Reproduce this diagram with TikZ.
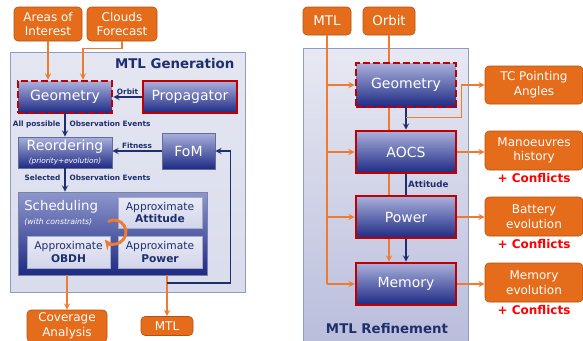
\documentclass[tikz,border=0pt]{standalone}
\usepackage{fontspec}
\setmainfont{DejaVu Sans}
\usetikzlibrary{calc}

\definecolor{orfill}{HTML}{E46C1A}
\definecolor{ordraw}{HTML}{B4520F}
\definecolor{oline}{HTML}{EE7B30}
\definecolor{bltop}{HTML}{AAB0DC}
\definecolor{blbot}{HTML}{1E2A84}
\definecolor{schtop}{HTML}{8E97CC}
\definecolor{redb}{HTML}{C00000}
\definecolor{navy}{HTML}{1F2F6E}
\definecolor{panel}{HTML}{D9DCEC}
\definecolor{panelb}{HTML}{8C9CC4}
\definecolor{apx}{HTML}{D3D6EB}
\definecolor{rptop}{HTML}{E8E9F3}
\definecolor{rpbot}{HTML}{B9BDDB}

\tikzset{
  orbox/.style={draw=ordraw, fill=orfill, rounded corners=3pt, text=white, align=center, inner sep=0pt, font=\fontsize{9}{11}\selectfont},
  blbox/.style={draw=navy!70, top color=bltop, bottom color=blbot, text=white, align=center, inner sep=0pt, font=\fontsize{10.5}{12}\selectfont},
  redbox/.style={blbox, draw=redb, line width=1.9pt},
  dashbox/.style={redbox, dash pattern=on 5pt off 2.5pt},
  apxbox/.style={draw=navy!40, top color=apx!50!white, bottom color=apx, text=navy, align=center, inner sep=0pt, font=\fontsize{8}{9.5}\selectfont},
  lbl/.style={text=navy, font=\bfseries\fontsize{5.5}{6.5}\selectfont, inner sep=1pt},
  oarr/.style={draw=oline, line width=1.1pt, ->},
  oln/.style={draw=oline, line width=1.1pt},
  barr/.style={draw=navy, line width=1.1pt, ->},
  bln/.style={draw=navy, line width=1.1pt},
  conf/.style={text=red, font=\bfseries\fontsize{9}{11}\selectfont},
  ttl/.style={text=navy, font=\bfseries\fontsize{10}{12}\selectfont},
}

\begin{document}
\begin{tikzpicture}[x=0.75pt,y=-0.75pt,>=stealth]
    \useasboundingbox (0,0) rectangle (583,340);
    % MTL generation
    \draw[draw=panelb, top color=panel!70!white, bottom color=panel] (10,52) rectangle (245,292);
    \node[ttl, anchor=east] (gentitle) at (239,64) {MTL Generation};
    \node[orbox, minimum width=51pt, minimum height=25.5pt] (aoi) at (48,24) {Areas of\\Interest};
    \node[orbox, minimum width=52.5pt, minimum height=25.5pt] (clouds) at (122,24) {Clouds\\Forecast};
    \node[dashbox, minimum width=70.5pt, minimum height=24pt] (geo) at (65,97) {Geometry};
    \node[redbox, minimum width=70.5pt, minimum height=24pt] (prop) at (190,97) {Propagator};
    \node[blbox, minimum width=70.5pt, minimum height=23.25pt] (reord) at (65,152.5) {Reordering\\[-2pt]{\itshape\fontsize{5.5}{6.5}\selectfont (priority+evolution)}};
    \node[blbox, minimum width=39.75pt, minimum height=27pt] (fom) at (188.5,151) {FoM};
    \node[draw=navy!60, top color=schtop, bottom color=blbot, minimum width=141.75pt, minimum height=62.25pt, inner sep=0pt] (sched) at (112.5,233.5) {};
    \node[anchor=north west, text=white, font=\fontsize{10}{11.5}\selectfont, inner sep=0pt, align=left] (schtxt) at (24,200) {Scheduling\\[-1pt]{\itshape\fontsize{5.8}{7}\selectfont (with constraints)}};
    \node[apxbox, minimum width=63pt, minimum height=23.25pt] (att) at (160,212.5) {Approximate\\\textbf{Attitude}};
    \node[apxbox, minimum width=62.25pt, minimum height=24pt] (obdh) at (68.5,252) {Approximate\\\textbf{OBDH}};
    \node[apxbox, minimum width=63pt, minimum height=24pt] (pow) at (160,252) {Approximate\\\textbf{Power}};
    \draw[oline, line width=2.2pt, ->] (114,232) ++(240:12) arc (240:500:12);
    \node[orbox, minimum width=60pt, minimum height=24pt] (cov) at (67,326) {Coverage\\Analysis};
    \node[orbox, minimum width=39pt, minimum height=14.25pt] (mtlout) at (167,326) {MTL};

    \draw[oarr] (aoi.south) -- (aoi.south |- geo.north);
    \coordinate (cbend) at ($(geo.north)+(18,0)$);
    \draw[oarr] (clouds.south) -- ++(0,7) -| (cbend);
    \draw[barr] (prop.west) -- (geo.east) node[lbl, midway, above] {Orbit};
    \draw[barr] (geo.south) -- (reord.north);
    \node[lbl, anchor=east] (allp) at (62,124) {All possible};
    \node[lbl, anchor=west] (obs1) at (68,124) {Observation Events};
    \draw[barr] (fom.west) -- (fom.west -| reord.east) node[lbl, midway, above] {Fitness};
    \draw[barr] (reord.south) -- (reord.south |- sched.north);
    \node[lbl, anchor=east] (selp) at (62,178) {Selected};
    \node[lbl, anchor=west] (obs2) at (68,178) {Observation Events};
    \draw[oarr] (sched.south -| cov.north) -- (cov.north);
    \draw[oarr] (sched.south -| mtlout.north) -- (mtlout.north);
    \coordinate (ret) at (167,283);
    \draw[barr] (ret) -| ($(fom.east)+(15,0)$) -- (fom.east);

    % MTL refinement
    \draw[draw=panelb, top color=rptop, bottom color=rpbot] (303,48) rectangle (468,345);
    \node[orbox, minimum width=36pt, minimum height=21pt, font=\fontsize{10}{12}\selectfont] (mtlR) at (327,21) {MTL};
    \node[orbox, minimum width=39pt, minimum height=21pt, font=\fontsize{10}{12}\selectfont] (orbitR) at (389,21) {Orbit};
    \node[dashbox, minimum width=75pt, minimum height=33pt] (geoR) at (406,85) {Geometry};
    \node[redbox, minimum width=75pt, minimum height=31.5pt] (aocs) at (406,152) {AOCS};
    \node[redbox, minimum width=75pt, minimum height=31.5pt] (powR) at (406,217) {Power};
    \node[redbox, minimum width=75pt, minimum height=31.5pt] (memR) at (406,284) {Memory};
    \node[orbox, minimum width=73.5pt, minimum height=28.5pt] (tc) at (534,85) {TC Pointing\\Angles};
    \node[orbox, minimum width=73.5pt, minimum height=29.25pt] (manh) at (534,150.5) {Manoeuvres\\history};
    \node[orbox, minimum width=73.5pt, minimum height=29.25pt] (batt) at (534,216.5) {Battery\\evolution};
    \node[orbox, minimum width=73.5pt, minimum height=29.25pt] (meme) at (534,282.5) {Memory\\evolution};
    \node[conf] (conf1) at (534,178) {+ Conflicts};
    \node[conf] (conf2) at (534,244) {+ Conflicts};
    \node[conf] (conf3) at (534,310) {+ Conflicts};
    \node[ttl] (reftitle) at (387,329) {MTL Refinement};

    \draw[oln] (mtlR.south) -- (mtlR.south |- memR);
    \draw[oarr] (mtlR.south |- geoR) -- (geoR.west);
    \draw[oarr] (mtlR.south |- aocs) -- (aocs.west);
    \draw[oarr] (mtlR.south |- powR) -- (powR.west);
    \draw[oarr] (mtlR.south |- memR) -- (memR.west);
    \draw[oln] (orbitR.south) -- (orbitR.south |- geoR.north);
    \draw[oln] (orbitR.south |- geoR.south) -- (orbitR.south |- aocs.north);
    \draw[oln] (orbitR.south |- aocs.south) -- (orbitR.south |- powR.north);
    \draw[oarr] (orbitR.south |- powR.south) -- (orbitR.south |- memR.north);
    \draw[barr] (geoR.south) -- (aocs.north);
    \draw[bln] (aocs.south) -- (powR.north) node[lbl, midway, right, font=\bfseries\fontsize{6.5}{7.5}\selectfont] {Attitude};
    \draw[barr] (powR.south) -- (memR.north);
    \coordinate (tcsplit) at ($(geoR.south)!0.42!(aocs.north)$);
    \draw[oarr] (tcsplit) -| ($(geoR.east)+(4,0)$) -- (tc.west);
    \draw[oarr] (aocs.east) -- (aocs.east -| manh.west);
    \draw[oarr] (powR.east) -- (powR.east -| batt.west);
    \draw[oarr] (memR.east) -- (memR.east -| meme.west);
\end{tikzpicture}
\end{document}
